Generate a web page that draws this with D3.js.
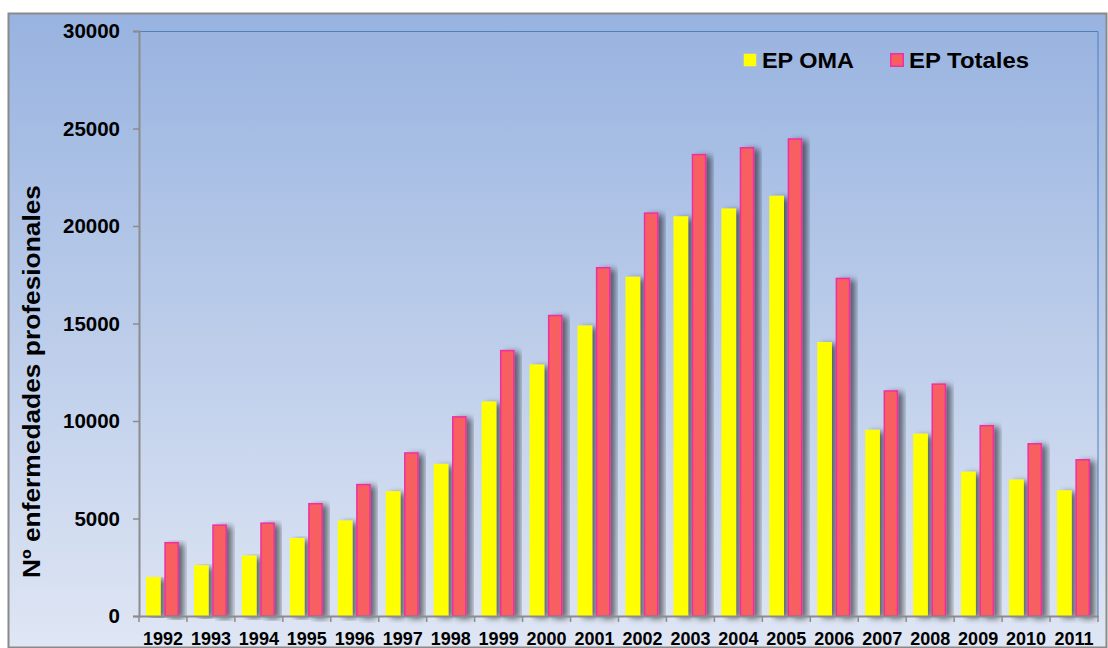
<!DOCTYPE html>
<html>
<head>
<meta charset="utf-8">
<script src="https://cdn.jsdelivr.net/npm/d3@7"></script>
<style>
  body { margin: 0; background: #fff; }
  text { font-family: Arial, "Liberation Sans", sans-serif; font-weight: bold; }
</style>
</head>
<body>
<svg id="chart"></svg>
<script>
// Enfermedades profesionales por año
const years = ["1992", "1993", "1994", "1995", "1996", "1997", "1998", "1999", "2000", "2001",
  "2002", "2003", "2004", "2005", "2006", "2007", "2008", "2009", "2010", "2011"];
const epOma = [2000, 2600, 3100, 4000, 4900, 6400, 7800, 11000, 12900, 14900,
  17400, 20500, 20900, 21550, 14050, 9550, 9350, 7400, 7000, 6450];
const epTotales = [3800, 4700, 4800, 5800, 6780, 8400, 10250, 13650, 15450, 17900,
  20700, 23700, 24050, 24500, 17350, 11580, 11930, 9800, 8870, 8050];
const seriesNames = ["EP OMA", "EP Totales"];
const yTicks = [0, 5000, 10000, 15000, 20000, 25000, 30000];

const width = 1108;
const height = 648;
const margin = { top: 31, right: 10, bottom: 32, left: 139 };

const svg = d3.select("#chart").attr("width", width).attr("height", height);
const defs = svg.append("defs");

const bg = defs.append("linearGradient").attr("id", "bg")
  .attr("x1", 0).attr("y1", 0).attr("x2", 0).attr("y2", 1);
bg.append("stop").attr("offset", "0%").attr("stop-color", "#98b3e0");
bg.append("stop").attr("offset", "100%").attr("stop-color", "#dfe6f4");

const shadow = defs.append("filter").attr("id", "shadow")
  .attr("x", "-20%").attr("y", "-5%").attr("width", "180%").attr("height", "110%");
shadow.append("feGaussianBlur").attr("in", "SourceAlpha").attr("stdDeviation", 3);
shadow.append("feOffset").attr("dx", 5).attr("dy", 2).attr("result", "b");
shadow.append("feComponentTransfer").append("feFuncA").attr("type", "linear").attr("slope", 0.55);
const merge = shadow.append("feMerge");
merge.append("feMergeNode");
merge.append("feMergeNode").attr("in", "SourceGraphic");

// chart area background + border
svg.append("rect")
  .attr("x", 8.5).attr("y", 13.5)
  .attr("width", width - 10).attr("height", height - 14)
  .attr("fill", "url(#bg)")
  .attr("stroke", "#8a8a8a").attr("stroke-width", 2);

const x = d3.scaleBand()
  .domain(years)
  .range([margin.left, width - margin.right])
  .paddingInner(0)
  .paddingOuter(0);

const inner = d3.scaleBand()
  .domain(seriesNames)
  .range([7, x.bandwidth() - 8])
  .paddingInner(0.2);

const y = d3.scaleLinear()
  .domain([0, 30000])
  .range([height - margin.bottom, margin.top]);

// top & right plot border
svg.append("path")
  .attr("d", `M${margin.left},${margin.top + 0.5}H${width - margin.right}V${height - margin.bottom}`)
  .attr("fill", "none")
  .attr("stroke", "#4f7fbf")
  .attr("stroke-width", 1);

const colors = { "EP OMA": "#ffff00", "EP Totales": "#f85e60" };
const strokes = { "EP OMA": "none", "EP Totales": "#ef2fa5" };

const groups = svg.append("g").selectAll("g")
  .data(years)
  .join("g")
  .attr("transform", (d) => `translate(${x(d)},0)`);

groups.selectAll("rect")
  .data((d, i) => [
    { key: "EP OMA", value: epOma[i] },
    { key: "EP Totales", value: epTotales[i] }
  ])
  .join("rect")
  .attr("x", (d) => inner(d.key) + (d.key === "EP Totales" ? 0.75 : 0))
  .attr("y", (d) => y(d.value) + (d.key === "EP Totales" ? 0.75 : 0))
  .attr("width", (d) => inner.bandwidth() - (d.key === "EP Totales" ? 1.5 : 0))
  .attr("height", (d) => y(0) - y(d.value) - (d.key === "EP Totales" ? 0.75 : 0))
  .attr("fill", (d) => colors[d.key])
  .attr("stroke", (d) => strokes[d.key])
  .attr("stroke-width", 1.5)
  .attr("filter", "url(#shadow)");

// axes
const yAxis = svg.append("g")
  .attr("transform", `translate(${margin.left},0)`)
  .call(d3.axisLeft(y).tickValues(yTicks).tickSize(6).tickPadding(13).tickFormat(d3.format("d")));
yAxis.select(".domain").attr("stroke", "#8c8c8c").attr("stroke-width", 2);
yAxis.selectAll(".tick line").attr("stroke", "#8c8c8c").attr("stroke-width", 1.5);
yAxis.selectAll(".tick text").attr("font-size", 20.5).attr("fill", "#000")
  .attr("font-family", "Arial, 'Liberation Sans', sans-serif").attr("font-weight", "bold");

const xAxis = svg.append("g")
  .attr("transform", `translate(0,${y(0)})`)
  .call(d3.axisBottom(x).tickSize(0).tickPadding(16));
xAxis.select(".domain").attr("stroke", "#8c8c8c").attr("stroke-width", 2);
xAxis.selectAll(".tick text").attr("font-size", 18).attr("fill", "#000")
  .attr("font-family", "Arial, 'Liberation Sans', sans-serif").attr("font-weight", "bold");

// category tick marks at band edges
svg.append("g").selectAll("line")
  .data(years.concat(["end"]))
  .join("line")
  .attr("x1", (d, i) => margin.left + i * x.bandwidth())
  .attr("x2", (d, i) => margin.left + i * x.bandwidth())
  .attr("y1", y(0))
  .attr("y2", y(0) + 6)
  .attr("stroke", "#8c8c8c")
  .attr("stroke-width", 1.5);

// y axis title
svg.append("text")
  .attr("transform", "translate(40,381.5) rotate(-90)")
  .attr("text-anchor", "middle")
  .attr("font-size", 24)
  .attr("textLength", 393)
  .attr("lengthAdjust", "spacingAndGlyphs")
  .text("Nº enfermedades profesionales");

// legend
const legend = svg.append("g").attr("transform", "translate(743,53)");
const legendX = [0, 147];
const legendLen = [92, 120];
seriesNames.forEach((name, i) => {
  const g = legend.append("g").attr("transform", `translate(${legendX[i]},0)`);
  g.append("rect")
    .attr("x", 0.75).attr("y", 0.75)
    .attr("width", 12.5).attr("height", 12.5)
    .attr("fill", colors[name])
    .attr("stroke", strokes[name])
    .attr("stroke-width", 1.5);
  g.append("text")
    .attr("x", 19).attr("y", 14.5)
    .attr("font-size", 21.5)
    .attr("textLength", legendLen[i])
    .attr("lengthAdjust", "spacingAndGlyphs")
    .text(name);
});
</script>
</body>
</html>
